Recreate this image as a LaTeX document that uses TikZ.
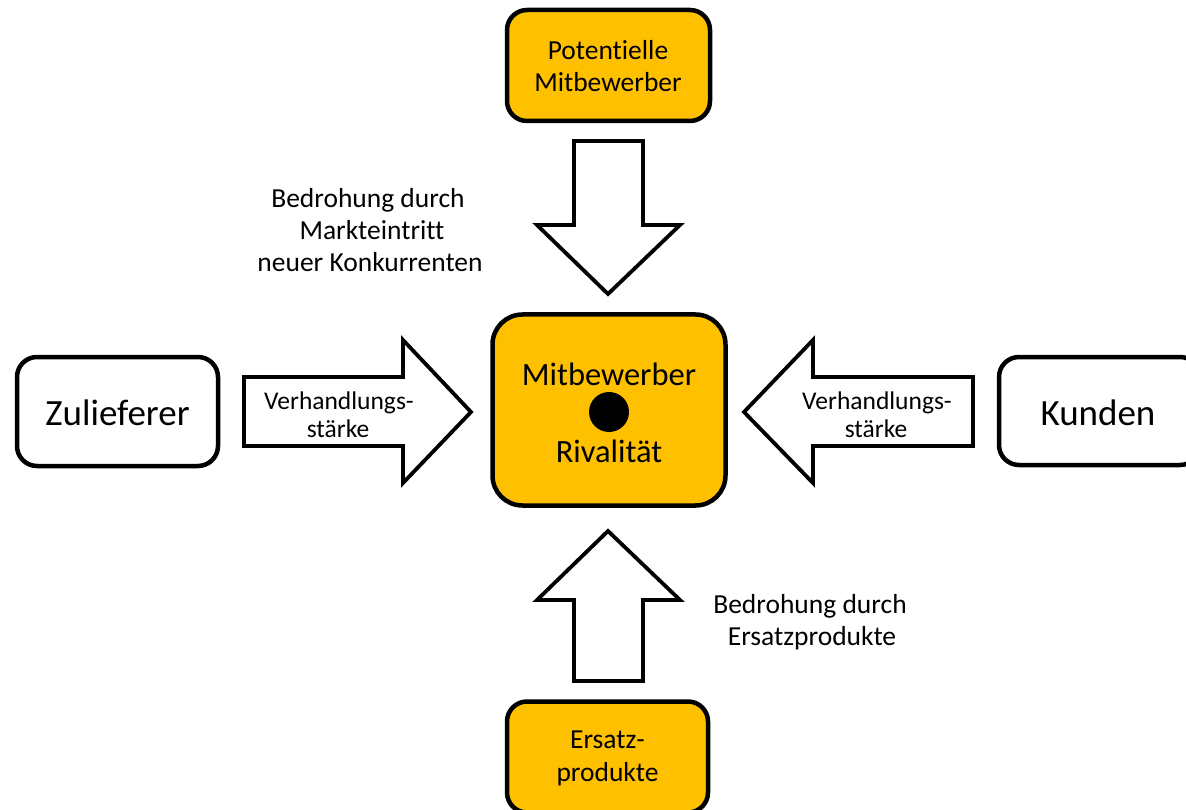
\documentclass[tikz,border=0pt]{standalone}
\usepackage{fontspec}
\setmainfont[Ligatures=NoCommon,RawFeature=-liga]{Carlito}
\definecolor{gold}{HTML}{FFC000}
\begin{document}
\begin{tikzpicture}[x=1pt,y=-1pt,
  box/.style={draw=black, line width=4.5pt, rounded corners=20pt, inner sep=0pt, fill=white},
  goldbox/.style={box, fill=gold},
  blockarrow/.style={draw=black, fill=white, line width=3.8pt, line join=miter, miter limit=10},
  lbl/.style={anchor=base, inner sep=0pt, font=\fontsize{27.5}{33}\selectfont},
  smalllbl/.style={anchor=base, inner sep=0pt, font=\fontsize{25.5}{30}\selectfont},
  midlbl/.style={anchor=base, inner sep=0pt, font=\fontsize{32.5}{38}\selectfont},
  biglbl/.style={anchor=base, inner sep=0pt, font=\fontsize{37}{43}\selectfont}
]
\useasboundingbox (0,0) rectangle (1186,810);

% boxes
\node[goldbox, minimum width=203pt, minimum height=111pt] (pot) at (608.5,65.5) {};
\node[lbl] (pot1) at (608,60) {Potentielle};
\node[lbl] (pot2) at (608,92) {Mitbewerber};

\node[goldbox, rounded corners=30pt, minimum width=233pt, minimum height=191pt] (riv) at (609,410) {};
\node[midlbl] (riv1) at (609,385) {Mitbewerber};
\node[circle, fill=black, minimum size=40pt, inner sep=0pt] (dot) at (609,412) {};
\node[midlbl] (riv2) at (609,462) {Rivalität};

\node[box, minimum width=201pt, minimum height=109pt] (zul) at (117.5,411.5) {};
\node[biglbl] (zult) at (117.5,425) {Zulieferer};

\node[box, minimum width=201pt, minimum height=108pt] (kun) at (1099.5,411) {};
\node[biglbl] (kunt) at (1098,425) {Kunden};

\node[goldbox, minimum width=201pt, minimum height=111pt] (ers) at (607.5,757) {};
\node[lbl] (ers1) at (607.5,748) {Ersatz-};
\node[lbl] (ers2) at (607.5,781) {produkte};

% block arrows
\draw[blockarrow] (574,141) -- (643,141) -- (643,225) -- (680,225) -- (608,294) -- (537,225) -- (574,225) -- cycle;
\draw[blockarrow] (574,681) -- (643,681) -- (643,600) -- (680,600) -- (608,531) -- (537,600) -- (574,600) -- cycle;
\draw[blockarrow] (244,377) -- (403,377) -- (403,340) -- (471,412) -- (403,483) -- (403,446) -- (244,446) -- cycle;
\draw[blockarrow] (973,377) -- (813,377) -- (813,340) -- (744,412) -- (813,483) -- (813,446) -- (973,446) -- cycle;

% arrow labels
\node[smalllbl] (vl1) at (339,409) {Verhandlungs-};
\node[smalllbl] (vl2) at (338,437) {stärke};
\node[smalllbl] (vr1) at (877,409) {Verhandlungs-};
\node[smalllbl] (vr2) at (876,437) {stärke};

% threat labels
\node[lbl] (t1) at (368,208) {Bedrohung durch};
\node[lbl] (t2) at (372,240) {Markteintritt};
\node[lbl] (t3) at (370,272) {neuer Konkurrenten};
\node[lbl] (s1) at (810,613) {Bedrohung durch};
\node[lbl] (s2) at (812,645) {Ersatzprodukte};
\end{tikzpicture}
\end{document}
